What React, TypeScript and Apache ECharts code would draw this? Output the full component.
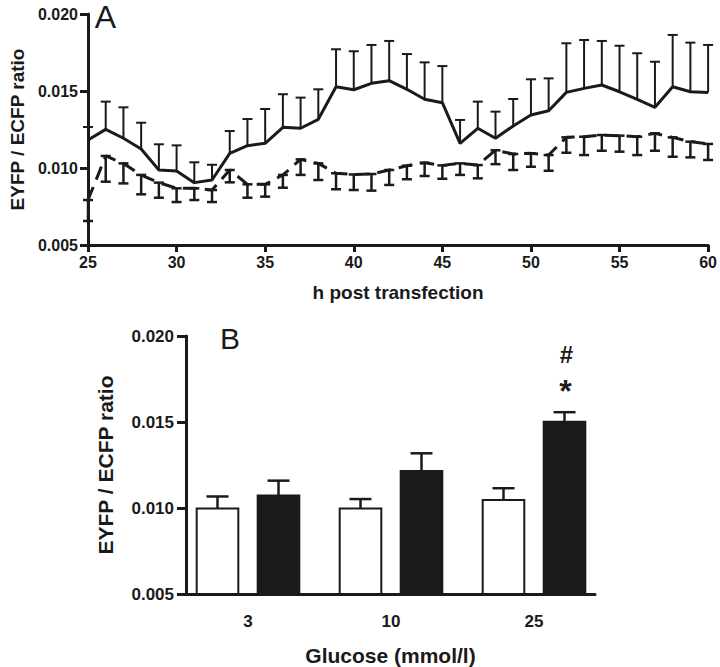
import React, { useEffect, useRef } from 'react';
import * as echarts from 'echarts';

const INK = '#1a1a1a';
const FONT = '"Liberation Sans", Arial, sans-serif';

// Panel A: time course
const hours = [25, 26, 27, 28, 29, 30, 31, 32, 33, 34, 35, 36, 37, 38, 39, 40, 41, 42, 43, 44, 45, 46, 47, 48, 49, 50, 51, 52, 53, 54, 55, 56, 57, 58, 59, 60];
const solidMean = [0.01182, 0.01251, 0.01193, 0.01123, 0.00987, 0.00981, 0.00905, 0.00922, 0.01095, 0.01145, 0.0116, 0.01264, 0.01258, 0.01316, 0.01528, 0.01508, 0.0155, 0.01567, 0.01511, 0.01446, 0.01424, 0.0116, 0.01258, 0.01193, 0.01273, 0.01344, 0.01372, 0.01491, 0.01517, 0.01539, 0.01495, 0.01446, 0.01394, 0.01528, 0.01495, 0.01491];
const solidErr = [0.00084, 0.0018, 0.00201, 0.00171, 0.00167, 0.00166, 0.00132, 0.00099, 0.00145, 0.00173, 0.00223, 0.00215, 0.00199, 0.00195, 0.00243, 0.0025, 0.00249, 0.00258, 0.00229, 0.0024, 0.00238, 0.00152, 0.00173, 0.00173, 0.00175, 0.00232, 0.0021, 0.00319, 0.00314, 0.00286, 0.00299, 0.00299, 0.00296, 0.00336, 0.00319, 0.00308];
const dashedMean = [0.00792, 0.01078, 0.0103, 0.00955, 0.00905, 0.00868, 0.00868, 0.00857, 0.00987, 0.00894, 0.00894, 0.00955, 0.01056, 0.0103, 0.00966, 0.00958, 0.00961, 0.00987, 0.01015, 0.01034, 0.01017, 0.0103, 0.01019, 0.01115, 0.01091, 0.01095, 0.01084, 0.01199, 0.01203, 0.01214, 0.0121, 0.01203, 0.01225, 0.01199, 0.01171, 0.01156];
const dashedErr = [0.00136, 0.00167, 0.0013, 0.00126, 0.00098, 0.00089, 0.00076, 0.00078, 0.0008, 0.00087, 0.0008, 0.00083, 0.00101, 0.00108, 0.00104, 0.00101, 0.00108, 0.00097, 0.00088, 0.00086, 0.00087, 0.00075, 0.00086, 0.0009, 0.00104, 0.00087, 0.00102, 0.001, 0.00119, 0.00102, 0.00104, 0.00119, 0.00113, 0.00126, 0.00102, 0.00104];

// Panel B: glucose bars
const glucose = ['3', '10', '25'];
const ctrlMean = [0.00997, 0.00997, 0.01047];
const ctrlErr = [0.0007, 0.00055, 0.00068];
const treatMean = [0.01072, 0.01215, 0.01502];
const treatErr = [0.00087, 0.00103, 0.00055];

const BASE = 0.005;

function errUp(capHalf: number, lw: number) {
  return (params: any, api: any) => {
    const x = api.value(0), m = api.value(1), e = api.value(2);
    const p0 = api.coord([x, m]);
    const p1 = api.coord([x, m + e]);
    return {
      type: 'group',
      children: [
        { type: 'line', shape: { x1: p0[0], y1: p0[1], x2: p1[0], y2: p1[1] }, style: { stroke: INK, lineWidth: lw } },
        { type: 'line', shape: { x1: p1[0] - capHalf, y1: p1[1], x2: p1[0] + capHalf, y2: p1[1] }, style: { stroke: INK, lineWidth: lw } },
      ],
    };
  };
}

function errDown(capHalf: number, lw: number) {
  return (params: any, api: any) => {
    const x = api.value(0), m = api.value(1), e = api.value(2);
    const p0 = api.coord([x, m]);
    const p1 = api.coord([x, m - e]);
    return {
      type: 'group',
      children: [
        { type: 'line', shape: { x1: p0[0], y1: p0[1], x2: p1[0], y2: p1[1] }, style: { stroke: INK, lineWidth: lw } },
        { type: 'line', shape: { x1: p1[0] - capHalf, y1: p1[1], x2: p1[0] + capHalf, y2: p1[1] }, style: { stroke: INK, lineWidth: lw } },
        { type: 'line', shape: { x1: p0[0] - capHalf, y1: p0[1], x2: p0[0] + capHalf, y2: p0[1] }, style: { stroke: INK, lineWidth: lw } },
      ],
    };
  };
}

const BAR_OFF = 0.2133;
const BAR_W = 0.291;

function barItem(offset: number, fill: string) {
  return (params: any, api: any) => {
    const i = api.value(0), m = api.value(1), e = api.value(2);
    const x = i + offset;
    const top = api.coord([x, m]);
    const base = api.coord([x, BASE]);
    const etop = api.coord([x, m + e]);
    const w = api.size([BAR_W, 0])[0];
    const cap = 11;
    return {
      type: 'group',
      children: [
        { type: 'line', shape: { x1: top[0], y1: top[1], x2: etop[0], y2: etop[1] }, style: { stroke: INK, lineWidth: 2.5 } },
        { type: 'line', shape: { x1: etop[0] - cap, y1: etop[1], x2: etop[0] + cap, y2: etop[1] }, style: { stroke: INK, lineWidth: 2.5 } },
        { type: 'rect', shape: { x: top[0] - w / 2, y: top[1], width: w, height: base[1] - top[1] }, style: { fill, stroke: INK, lineWidth: 2 } },
      ],
    };
  };
}

const labelStyle = { color: INK, fontFamily: FONT, fontWeight: 'bold' as const };

export default function App() {
  const ref = useRef<HTMLDivElement>(null);
  useEffect(() => {
    const chart = echarts.init(ref.current!, null, { renderer: 'svg' });
    const option: any = {
      animation: false,
      backgroundColor: '#fff',
      grid: [
        { left: 77, top: 14, right: 10, bottom: 422, containLabel: false },
        { left: 186, top: 336, right: 125, bottom: 73, containLabel: false },
      ],
      xAxis: [
        {
          gridIndex: 0, type: 'value', min: 25, max: 60, interval: 5,
          axisLine: { lineStyle: { color: INK, width: 3 } },
          axisTick: { length: 7, lineStyle: { color: INK, width: 3 } },
          axisLabel: { ...labelStyle, fontSize: 16, margin: 9 },
          splitLine: { show: false },
          name: 'h post transfection', nameLocation: 'middle', nameGap: 38,
          nameTextStyle: { ...labelStyle, fontSize: 19 },
        },
        {
          gridIndex: 1, type: 'value', min: -0.4336, max: 2.4266,
          axisLine: { onZero: false, lineStyle: { color: INK, width: 3 } },
          axisTick: { show: false },
          axisLabel: { ...labelStyle, fontSize: 17, margin: 19, customValues: [0, 1, 2], formatter: (v: number) => glucose[Math.round(v)] ?? '' },
          splitLine: { show: false },
          name: 'Glucose (mmol/l)', nameLocation: 'middle', nameGap: 51,
          nameTextStyle: { ...labelStyle, fontSize: 21 },
        },
      ],
      yAxis: [
        {
          gridIndex: 0, type: 'value', min: 0.005, max: 0.02, interval: 0.005,
          axisLine: { onZero: false, lineStyle: { color: INK, width: 3 } },
          axisTick: { length: 8, lineStyle: { color: INK, width: 3 } },
          axisLabel: { ...labelStyle, fontSize: 16, margin: 10, formatter: (v: number) => v.toFixed(3) },
          splitLine: { show: false },
          name: 'EYFP / ECFP ratio', nameLocation: 'middle', nameGap: 61,
          nameTextStyle: { ...labelStyle, fontSize: 19 },
        },
        {
          gridIndex: 1, type: 'value', min: 0.005, max: 0.02, interval: 0.005,
          axisLine: { onZero: false, lineStyle: { color: INK, width: 3 } },
          axisTick: { length: 9, lineStyle: { color: INK, width: 3 } },
          axisLabel: { ...labelStyle, fontSize: 17, margin: 12, formatter: (v: number) => v.toFixed(3) },
          splitLine: { show: false },
          name: 'EYFP / ECFP ratio', nameLocation: 'middle', nameGap: 70,
          nameTextStyle: { ...labelStyle, fontSize: 21 },
        },
      ],
      series: [
        {
          type: 'custom', xAxisIndex: 0, yAxisIndex: 0, clip: false,
          renderItem: errUp(5, 2),
          data: hours.map((h, i) => [h, solidMean[i], solidErr[i]]),
          z: 2,
        },
        {
          type: 'custom', xAxisIndex: 0, yAxisIndex: 0, clip: false,
          renderItem: errDown(5, 2.5),
          data: hours.map((h, i) => [h, dashedMean[i], dashedErr[i]]),
          z: 2,
        },
        {
          type: 'line', xAxisIndex: 0, yAxisIndex: 0, symbol: 'none',
          lineStyle: { color: INK, width: 3 },
          data: hours.map((h, i) => [h, solidMean[i]]),
          z: 3,
        },
        {
          type: 'line', xAxisIndex: 0, yAxisIndex: 0, symbol: 'none',
          lineStyle: { color: INK, width: 3, type: [14, 8] },
          data: hours.map((h, i) => [h, dashedMean[i]]),
          z: 3,
        },
        {
          type: 'custom', xAxisIndex: 1, yAxisIndex: 1, clip: false,
          renderItem: barItem(-BAR_OFF, '#ffffff'),
          data: glucose.map((g, i) => [i, ctrlMean[i], ctrlErr[i]]),
        },
        {
          type: 'custom', xAxisIndex: 1, yAxisIndex: 1, clip: false,
          renderItem: barItem(BAR_OFF, INK),
          data: glucose.map((g, i) => [i, treatMean[i], treatErr[i]]),
        },
      ],
      graphic: [
        { type: 'text', x: 105.5, y: 17, style: { text: 'A', font: `32px ${FONT}`, fill: INK, textAlign: 'center', textVerticalAlign: 'middle' } },
        { type: 'text', x: 230, y: 338, style: { text: 'B', font: `30px ${FONT}`, fill: INK, textAlign: 'center', textVerticalAlign: 'middle' } },
        { type: 'text', x: 566.5, y: 354, style: { text: '#', font: `bold 24px ${FONT}`, fill: INK, textAlign: 'center', textVerticalAlign: 'middle' } },
        { type: 'text', x: 565.5, y: 391, style: { text: '*', font: `bold 32px ${FONT}`, fill: INK, textAlign: 'center', textVerticalAlign: 'middle' } },
      ],
    };
    chart.setOption(option);
    return () => chart.dispose();
  }, []);
  return <div ref={ref} style={{ position: 'absolute', left: 0, top: 0, width: 720, height: 667, background: '#fff' }} />;
}
